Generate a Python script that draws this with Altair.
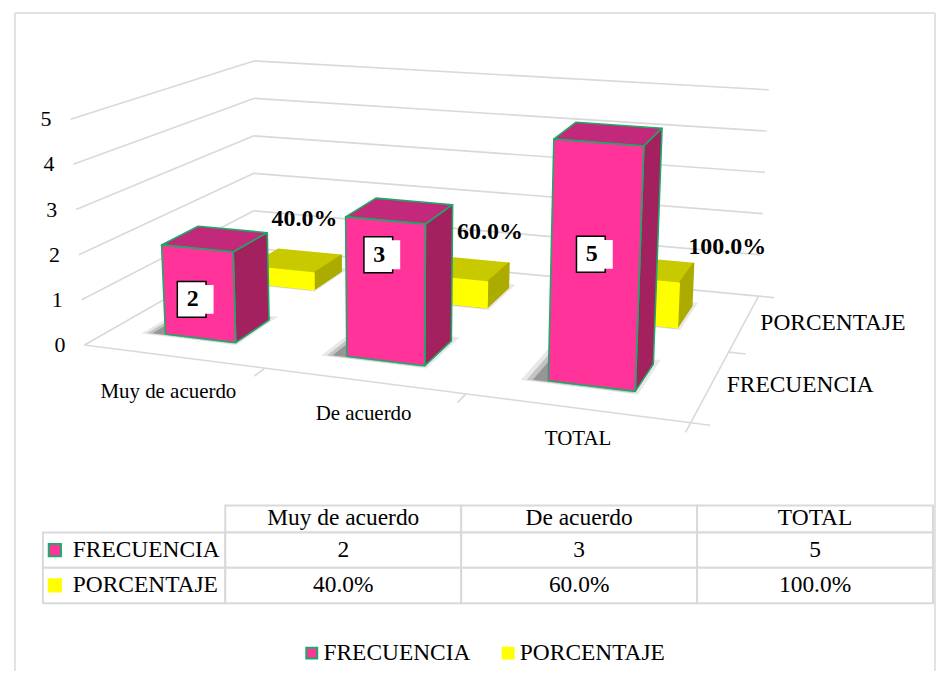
import numpy as np
import pandas as pd
import altair as alt

# ---------------- data ----------------
categories = ["Muy de acuerdo", "De acuerdo", "TOTAL"]
series_names = ["FRECUENCIA", "PORCENTAJE"]
frecuencia = [2, 3, 5]
porcentaje = [0.40, 0.60, 1.00]
frecuencia_text = ["2", "3", "5"]
porcentaje_text = ["40.0%", "60.0%", "100.0%"]
y_ticks = [0, 1, 2, 3, 4, 5]

# ---------------- styling ----------------
FONT = "Liberation Serif, Times New Roman, DejaVu Serif, serif"
GRID = "#d9d9d9"
GREEN = "#1DAA67"
FACE = {
    "FRECUENCIA": {"front": "#FF3399", "side": "#A3215F", "top": "#C2297A", "stroke": GREEN},
    "PORCENTAJE": {"front": "#FFFF00", "side": "#ABAB00", "top": "#C9C900", "stroke": None},
}
LEGEND_FILL = ["#FF3399", "#FFFF00"]
LEGEND_STROKE = [GREEN, "#FFFF00"]

# ---------------- 3-D layout (page pixels) ----------------
FLOOR_CORNERS = [((0, 0), (81.7, 345.0)), ((1, 0), (690.0, 423.0)),
                 ((0, 1), (251.7, 248.0)), ((1, 1), (758.0, 296.0))]
VERT = {(0, 0): (-2.8, -45.3), (1, 0): (2.2, -51.3), (0, 1): (0.0, -37.6), (1, 1): (2.06, -41.4)}
NX, NZ = len(categories), len(series_names)
BAR_LO, BAR_HI = 0.3, 0.7
ROW_OF = {"FRECUENCIA": 0, "PORCENTAJE": 1}

# label offsets (px) relative to projected anchors
VALUE_LABEL_OFFSET = [(-6, 6), (-6, -36), (-3, -10)]
PCT_LABEL_OFFSET = [(9, -42), (27, -37), (80, -23)]
CAT_LABEL_OFFSET = [(-4, 36), (1, 33), (3, 31)]
SERIES_LABEL_DX = 16
TICK_LABEL_DX = -19


def _homography(pairs):
    A, b = [], []
    for (u, v), (x, y) in pairs:
        A.append([u, v, 1, 0, 0, 0, -u * x, -v * x]); b.append(x)
        A.append([0, 0, 0, u, v, 1, -u * y, -v * y]); b.append(y)
    h = np.linalg.solve(np.array(A, float), np.array(b, float))
    return np.append(h, 1.0).reshape(3, 3)


HMAT = _homography(FLOOR_CORNERS)


def project(X, Z, Y):
    u, v = X / NX, Z / NZ
    p = HMAT @ np.array([u, v, 1.0])
    fx, fy = p[0] / p[2], p[1] / p[2]
    w = {(0, 0): (1 - u) * (1 - v), (1, 0): u * (1 - v), (0, 1): (1 - u) * v, (1, 1): u * v}
    vx = sum(w[k] * VERT[k][0] for k in w)
    vy = sum(w[k] * VERT[k][1] for k in w)
    return [float(fx + Y * vx), float(fy + Y * vy)]


def poly(pts3, fill, stroke=None, op=1.0):
    ring = [project(*p) for p in pts3]
    ring.append(ring[0])
    return {"type": "Feature", "geometry": {"type": "Polygon", "coordinates": [ring]},
            "properties": {"fill": fill, "stroke": stroke or fill, "op": op}}


def seg(p0, p1):
    return {"type": "Feature",
            "geometry": {"type": "LineString", "coordinates": [project(*p0), project(*p1)]},
            "properties": {"k": 0}}


# walls / floor lines
lines = []
for t in y_ticks:
    lines.append(seg((0, 0, t), (0, NZ, t)))
    lines.append(seg((0, NZ, t), (NX, NZ, t)))
lines.append(seg((0, 0, 0), (NX, 0, 0)))
lines.append(seg((NX, 0, 0), (NX, NZ, 0)))
for i in range(1, NX + 1):
    lines.append(seg((i, 0, 0), (i, -0.12, 0)))
for r in range(0, NZ + 1):
    lines.append(seg((NX, r, 0), (NX + 0.08, r, 0)))

# soft shadows and boxes
shadows, boxes = [], []
values = {"FRECUENCIA": frecuencia, "PORCENTAJE": porcentaje}
for s in series_names:
    r = ROW_OF[s]
    for i, val in enumerate(values[s]):
        x0, x1 = i + BAR_LO, i + BAR_HI
        z0, z1 = r + BAR_LO, r + BAR_HI
        for grow, op in [(0.07, 0.10), (0.045, 0.18), (0.02, 0.28)]:
            sx = -0.05
            shadows.append(poly([(x0 - grow + sx, z0 - grow * 0.5, 0), (x1 + grow + sx, z0 - grow * 0.5, 0),
                                 (x1 + grow + sx, z1 + grow, 0), (x0 - grow + sx, z1 + grow, 0)],
                                "#202020", op=op))

order = sorted(series_names, key=lambda s: -ROW_OF[s])
for s in order:
    r = ROW_OF[s]
    c = FACE[s]
    for i, val in enumerate(values[s]):
        x0, x1 = i + BAR_LO, i + BAR_HI
        z0, z1 = r + BAR_LO, r + BAR_HI
        boxes.append(poly([(x0, z0, val), (x1, z0, val), (x1, z1, val), (x0, z1, val)], c["top"], c["stroke"]))
        boxes.append(poly([(x1, z0, 0), (x1, z1, 0), (x1, z1, val), (x1, z0, val)], c["side"], c["stroke"]))
        boxes.append(poly([(x0, z0, 0), (x1, z0, 0), (x1, z0, val), (x0, z0, val)], c["front"], c["stroke"]))

# text anchors
tick_df = pd.DataFrame([{"x": project(0, 0, t)[0] + TICK_LABEL_DX, "y": project(0, 0, t)[1], "t": str(t)} for t in y_ticks])
cat_df = pd.DataFrame([{"x": project(i + 0.5, 0, 0)[0] + CAT_LABEL_OFFSET[i][0],
                        "y": project(i + 0.5, 0, 0)[1] + CAT_LABEL_OFFSET[i][1], "t": c}
                       for i, c in enumerate(categories)])
ser_df = pd.DataFrame([{"x": project(NX, ROW_OF[s] + 0.5, 0)[0] + SERIES_LABEL_DX,
                        "y": project(NX, ROW_OF[s] + 0.5, 0)[1], "t": s} for s in series_names])
val_rows = []
for i, (v, t) in enumerate(zip(frecuencia, frecuencia_text)):
    ax, ay = project(i + 0.5, BAR_LO, v / 2)
    val_rows.append({"x": ax + VALUE_LABEL_OFFSET[i][0], "y": ay + VALUE_LABEL_OFFSET[i][1], "t": t})
val_df = pd.DataFrame(val_rows)
val_df["bx"] = val_df["x"] - 1
val_df["wx"] = val_df["x"] + 4
pct_rows = []
for i, (v, t) in enumerate(zip(porcentaje, porcentaje_text)):
    ax, ay = project(i + 0.5, 1 + 0.5, v)
    pct_rows.append({"x": ax + PCT_LABEL_OFFSET[i][0], "y": ay + PCT_LABEL_OFFSET[i][1], "t": t})
pct_df = pd.DataFrame(pct_rows)

one = pd.DataFrame({"a": [0]})
W1, H1 = 928, 498

border = [
    alt.Chart(one).mark_rule(color=GRID, strokeWidth=1.5).encode(x=alt.value(4), x2=alt.value(927), y=alt.value(4)),
    alt.Chart(one).mark_rule(color=GRID, strokeWidth=1.5).encode(x=alt.value(4), y=alt.value(4), y2=alt.value(664)),
    alt.Chart(one).mark_rule(color=GRID, strokeWidth=1.5).encode(x=alt.value(927), y=alt.value(4), y2=alt.value(664)),
]
grid_layer = alt.Chart(alt.Data(values=lines)).mark_geoshape(filled=False, stroke=GRID, strokeWidth=1.6)
shadow_layer = alt.Chart(alt.Data(values=shadows)).mark_geoshape(strokeWidth=0).encode(
    fill=alt.Fill("properties.fill:N", scale=None),
    opacity=alt.Opacity("properties.op:Q", scale=None))
box_layer = alt.Chart(alt.Data(values=boxes)).mark_geoshape(strokeWidth=1.6, strokeJoin="round").encode(
    fill=alt.Fill("properties.fill:N", scale=None),
    stroke=alt.Stroke("properties.stroke:N", scale=None))

lab_box = alt.Chart(val_df).mark_point(shape="M-0.8,-1H0.8V1H-0.8Z", size=1296, filled=True, fill="white",
                                       stroke="black", strokeWidth=1.5, opacity=1).encode(
    longitude="bx:Q", latitude="y:Q")
lab_white = alt.Chart(val_df).mark_point(shape="M-1,-0.85H1V0.85H-1Z", size=1156, filled=True, fill="white",
                                         strokeWidth=0, opacity=1).encode(longitude="wx:Q", latitude="y:Q")
lab_text = alt.Chart(val_df).mark_text(font=FONT, fontSize=24, fontWeight="bold", color="black",
                                       baseline="middle").encode(longitude="x:Q", latitude="y:Q", text="t:N")
pct_text = alt.Chart(pct_df).mark_text(font=FONT, fontSize=24, fontWeight="bold", color="black",
                                       baseline="middle").encode(longitude="x:Q", latitude="y:Q", text="t:N")
tick_text = alt.Chart(tick_df).mark_text(font=FONT, fontSize=22, color="black", align="right",
                                         baseline="middle").encode(longitude="x:Q", latitude="y:Q", text="t:N")
cat_text = alt.Chart(cat_df).mark_text(font=FONT, fontSize=21, color="black",
                                       baseline="middle").encode(longitude="x:Q", latitude="y:Q", text="t:N")
ser_text = alt.Chart(ser_df).mark_text(font=FONT, fontSize=23.5, color="black", align="left",
                                       baseline="middle").encode(longitude="x:Q", latitude="y:Q", text="t:N")

plot3d = alt.layer(*border, grid_layer, shadow_layer, box_layer, lab_box, lab_white, lab_text,
                   pct_text, tick_text, cat_text, ser_text).properties(
    width=W1, height=H1,
    projection=alt.Projection(type="identity", scale=1, translate=[-8, -8]))

# ---------------- data table ----------------
HDR_H, TABLE_H = 27, 98
LEFT_PAD, LABEL_W, VALUES_W = 32, 183, 710
col_scale = alt.Scale(domain=categories, paddingInner=0, paddingOuter=0)
row_scale = alt.Scale(domain=series_names, range=[HDR_H, TABLE_H], paddingInner=0, paddingOuter=0)

spacer = alt.Chart(one).mark_point(opacity=0).encode(x=alt.value(0), y=alt.value(0)).properties(
    width=LEFT_PAD, height=TABLE_H)

# row labels column (with legend keys)
lab_df = pd.DataFrame({"row": series_names, "t": series_names})
leg = dict(orient="none", legendX=290, legendY=634, direction="horizontal", title=None,
           symbolType="square", symbolSize=121, symbolStrokeWidth=2, labelFont=FONT,
           labelFontSize=23.5, labelColor="black", labelOffset=0, columnPadding=25, padding=0)
lab_cells = alt.Chart(lab_df).mark_rect(fill="white", stroke=GRID, strokeWidth=2).encode(
    x=alt.value(0), x2=alt.value(LABEL_W), y=alt.Y("row:N", scale=row_scale, axis=None))
lab_sw = alt.Chart(lab_df).mark_point(shape="square", filled=True, size=150, strokeWidth=2, opacity=1).encode(
    x=alt.value(12), y=alt.Y("row:N", scale=row_scale, axis=None),
    fill=alt.Fill("row:N", scale=alt.Scale(domain=series_names, range=LEGEND_FILL), legend=alt.Legend(**leg)),
    stroke=alt.Stroke("row:N", scale=alt.Scale(domain=series_names, range=LEGEND_STROKE), legend=alt.Legend(**leg)))
lab_txt = alt.Chart(lab_df).mark_text(font=FONT, fontSize=23.5, color="black", align="left").encode(
    x=alt.value(30), y=alt.Y("row:N", scale=row_scale, axis=None), text="t:N")
label_col = alt.layer(lab_cells, lab_sw, lab_txt).properties(width=LABEL_W, height=TABLE_H)

# header + value cells
hdr_df = pd.DataFrame({"col": categories, "t": categories})
hdr_cells = alt.Chart(hdr_df).mark_rect(fill="white", stroke=GRID, strokeWidth=2).encode(
    x=alt.X("col:N", scale=col_scale, axis=None), y=alt.value(0), y2=alt.value(HDR_H))
hdr_txt = alt.Chart(hdr_df).mark_text(font=FONT, fontSize=23.5, color="black", baseline="middle").encode(
    x=alt.X("col:N", scale=col_scale, axis=None), y=alt.value(HDR_H / 2 - 1), text="t:N")

cells = []
for i, c in enumerate(categories):
    cells.append({"row": "FRECUENCIA", "col": c, "t": frecuencia_text[i]})
    cells.append({"row": "PORCENTAJE", "col": c, "t": porcentaje_text[i]})
cells_df = pd.DataFrame(cells)
val_cells = alt.Chart(cells_df).mark_rect(fill="white", stroke=GRID, strokeWidth=2).encode(
    x=alt.X("col:N", scale=col_scale, axis=None), y=alt.Y("row:N", scale=row_scale, axis=None))
val_txt = alt.Chart(cells_df).mark_text(font=FONT, fontSize=23.5, color="black").encode(
    x=alt.X("col:N", scale=col_scale, axis=None), y=alt.Y("row:N", scale=row_scale, axis=None), text="t:N")
value_cols = alt.layer(hdr_cells, val_cells, hdr_txt, val_txt).properties(width=VALUES_W, height=TABLE_H)

table = alt.hconcat(spacer, label_col, value_cols, spacing=0, bounds="flush")

chart = alt.vconcat(plot3d, table, spacing=0, bounds="flush").properties(
    padding=0, background="white").configure_view(stroke=None)

chart.save("out.html", embed_options={"renderer": "svg", "actions": False})
